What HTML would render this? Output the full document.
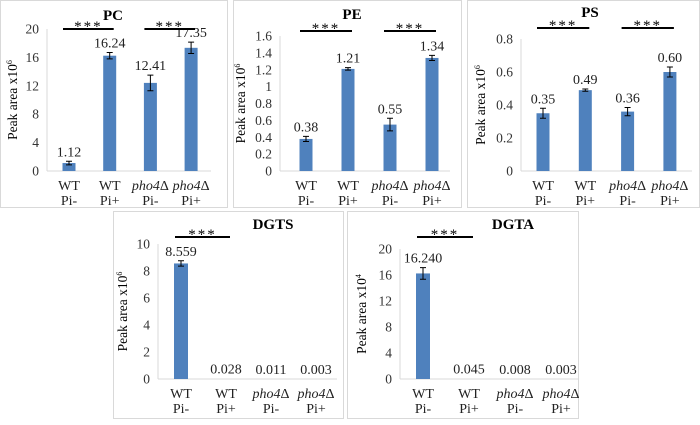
<!DOCTYPE html>
<html><head><meta charset="utf-8"><style>
body{margin:0;background:#fff;}
svg, svg text{font-family:"Liberation Serif","DejaVu Serif",serif;}
</style></head><body>
<svg id="c" width="700" height="420" viewBox="0 0 700 420" font-family="Liberation Serif, serif"></svg>
<script>
const categories=["WT|Pi-","WT|Pi+","pho4Δ|Pi-","pho4Δ|Pi+"];
const pcValues=[1.12,16.24,12.41,17.35];
const pcErrors=[0.25,0.45,1.1,0.8];
const peValues=[0.38,1.21,0.55,1.34];
const peErrors=[0.03,0.015,0.075,0.03];
const psValues=[0.35,0.49,0.36,0.60];
const psErrors=[0.03,0.007,0.025,0.03];
const dgtsValues=[8.559,0.028,0.011,0.003];
const dgtsErrors=[0.2,0,0,0];
const dgtaValues=[16.240,0.045,0.008,0.003];
const dgtaErrors=[0.9,0,0,0];
const pcLabels=["1.12","16.24","12.41","17.35"];
const peLabels=["0.38","1.21","0.55","1.34"];
const psLabels=["0.35","0.49","0.36","0.60"];
const dgtsLabels=["8.559","0.028","0.011","0.003"];
const dgtaLabels=["16.240","0.045","0.008","0.003"];
const pcTicks=[0,4,8,12,16,20];
const peTicks=[0,0.2,0.4,0.6,0.8,1,1.2,1.4,1.6];
const psTicks=[0,0.2,0.4,0.6,0.8];
const dgtsTicks=[0,2,4,6,8,10];
const dgtaTicks=[0,4,8,12,16,20];

const svg=document.getElementById('c');
const NS="http://www.w3.org/2000/svg";
const FF='"Liberation Serif", serif';
function el(tag,attrs,parent,text){const e=document.createElementNS(NS,tag);for(const k in attrs)e.setAttribute(k,attrs[k]);if(tag==='text')e.style.fontFamily=FF;if(text!==undefined)e.textContent=text;(parent||svg).appendChild(e);return e;}

function panel(o){
  const g=el('g',{});
  
  
  const bx=el('rect',{x:o.bx,y:o.by,width:o.bw,height:o.bh,fill:'#fff',stroke:'#d9d9d9','stroke-width':1},g);
  
  
  const t=el('text',{x:o.tx,y:o.ty,'text-anchor':'middle','font-size':15,'font-weight':'bold',fill:'#000'},g,o.title);
  
  
  const max=o.ticks[o.ticks.length-1];
  const y=v=>o.y0-(v/max)*(o.y0-o.yTop);
  const xc=i=>o.x0+o.first+i*o.step;
  const ax=el('line',{x1:o.x0,y1:o.yTop,x2:o.x0,y2:o.y0,stroke:'#d9d9d9'},g);
  
  
  const bl=el('line',{x1:o.x0,y1:o.y0,x2:o.xR,y2:o.y0,stroke:'#d9d9d9'},g);
  
  
  o.ticks.forEach(tv=>{
    const tl=el('text',{x:o.x0-8,y:y(tv)+4.5,'text-anchor':'end','font-size':13.5,fill:'#333'},g,String(tv));
    
    
  });
  const yl=el('text',{x:0,y:0,transform:`translate(${o.ylx},${(o.y0+o.yTop)/2}) rotate(-90)`,'text-anchor':'middle','font-size':13.5,fill:'#000'},g);
  
  
  yl.appendChild(document.createTextNode('Peak area x10'));
  el('tspan',{'font-size':8,dy:-5},yl,o.exp);
  o.values.forEach((v,i)=>{
    const cx=xc(i);
    const h=Math.max(o.y0-y(v),0);
    if(h>0.6){
      const b=el('rect',{x:cx-o.bar/2,y:y(v),width:o.bar,height:h,fill:'#4f81bd'},g);
      
      
    }
    const e=o.errors[i];
    if(e>0){
      const eb=el('path',{d:`M${cx},${y(v+e)}V${y(v-e)}M${cx-3},${y(v+e)}h6M${cx-3},${y(v-e)}h6`,stroke:'#000','stroke-width':1,fill:'none'},g);
      
      
    }
    const vl=el('text',{x:cx,y:Math.min(y(v+e),o.y0)-5,'text-anchor':'middle','font-size':14,fill:'#222'},g,o.labels[i]);
    
    
    const parts=categories[i].split('|');
    const it=parts[0].startsWith('pho4');
    const c1=el('text',{x:cx,y:o.y0+19,'text-anchor':'middle','font-size':14,fill:'#222','font-style':it?'italic':'normal'},g);
    if(it){c1.appendChild(document.createTextNode('pho4'));el('tspan',{'font-style':'normal'},c1,'Δ');}else c1.textContent=parts[0];
    
    
    const c2=el('text',{x:cx,y:o.y0+34,'text-anchor':'middle','font-size':14,fill:'#222'},g,parts[1]);
    
    
  });
  o.sig.forEach((p,k)=>{
    const x1=xc(p[0])-6,x2=xc(p[1])+4;
    const ln=el('line',{x1:x1,y1:o.sigY,x2:x2,y2:o.sigY,stroke:'#000','stroke-width':2},g);
    
    
    const st=el('text',{x:(x1+x2)/2,y:o.sigY+2,'text-anchor':'middle','font-size':15,fill:'#000','letter-spacing':'2'},g,'***');
    
    
  });
}
panel({key:'pc',title:'PC',bx:0.5,by:0.5,bw:227,bh:207,tx:113,ty:20,x0:47,xR:211,y0:171,yTop:29,first:22,step:40.7,bar:13,ticks:pcTicks,values:pcValues,errors:pcErrors,labels:pcLabels,ylx:17,exp:'6',sig:[[0,1],[2,3]],sigY:29});
panel({key:'pe',title:'PE',bx:233.5,by:0.5,bw:228,bh:207,tx:352,ty:19,x0:280,xR:450,y0:171,yTop:36,first:26,step:42,bar:13,ticks:peTicks,values:peValues,errors:peErrors,labels:peLabels,ylx:245,exp:'6',sig:[[0,1],[2,3]],sigY:31});
panel({key:'ps',title:'PS',bx:467.5,by:0.5,bw:232,bh:207,tx:590,ty:17,x0:521,xR:692,y0:171,yTop:39,first:22,step:42.3,bar:13,ticks:psTicks,values:psValues,errors:psErrors,labels:psLabels,ylx:485,exp:'6',sig:[[0,1],[2,3]],sigY:28});
panel({key:'dgts',title:'DGTS',bx:113.5,by:211.5,bw:230,bh:207,tx:273,ty:229,x0:158,xR:337,y0:379,yTop:244,first:23,step:45,bar:14,ticks:dgtsTicks,values:dgtsValues,errors:dgtsErrors,labels:dgtsLabels,ylx:127,exp:'6',sig:[[0,1]],sigY:237});
panel({key:'dgta',title:'DGTA',bx:347.5,by:211.5,bw:231,bh:207,tx:513,ty:229,x0:400,xR:578,y0:379,yTop:249,first:23,step:46,bar:14,ticks:dgtaTicks,values:dgtaValues,errors:dgtaErrors,labels:dgtaLabels,ylx:366,exp:'4',sig:[[0,1]],sigY:237});
</script>
</body></html>
